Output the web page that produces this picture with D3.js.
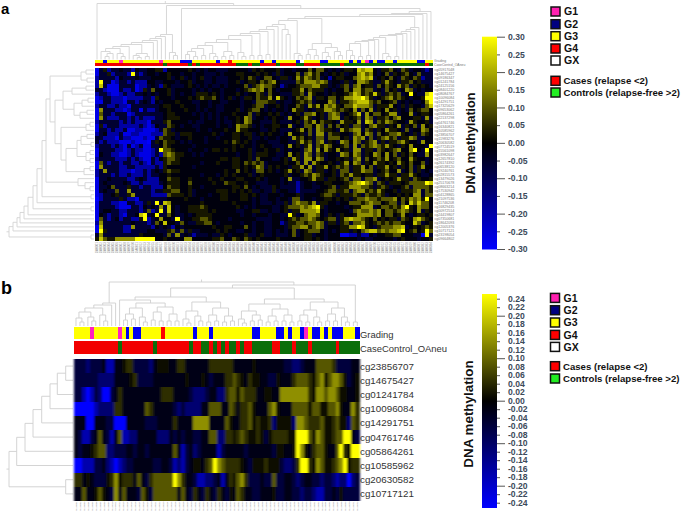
<!DOCTYPE html>
<html><head><meta charset="utf-8">
<script src="https://cdn.jsdelivr.net/npm/d3@7"></script>
<style>html,body{margin:0;padding:0;background:#fff}svg{display:block;font-family:"Liberation Sans",Arial,sans-serif}</style>
</head><body><svg id="c" width="685" height="511"></svg>
<script>
// ---------- values (digits index the level arrays) ----------
const levelsA=[-0.30,-0.27,-0.19,-0.06,-0.012,0.025,0.10,0.17,0.23,0.30];
const levelsB=[-0.25,-0.17,-0.11,-0.06,-0.02,0.015,0.045,0.085,0.14,0.25];
const matrixA=[
"135233433243 344552444445 434344333444 443545444534 434446466434 345548788435 564365344323",
"133523332932 344344544344 344333434445 544454543534 446367564345 453447867434 635456436333",
"233332433343 334444534534 345334333444 546534664355 347576563424 554467878345 464365465233",
"293312332322 244334443445 344334333445 345546567433 336577767634 435347765335 754355645333",
"283111333312 234325433345 434343343444 463567665423 445666775534 356367455364 654756354543",
"332111322312 536444534444 343434434443 456767464344 455746555343 446477566343 645347634344",
"233211232233 434344534344 355545434445 434465364433 355637544345 445687565853 565634943389",
"123322212222 332544434445 456556434534 355465574854 346567355466 457788975345 675654344599",
"113322213323 432434445444 334434433444 344366655343 345656344476 355678886564 456343433479",
"233223221333 333345544544 434434334444 344566344543 446537574767 546687776355 574353544368",
"173332212331 322344544454 434344334445 345664343443 475534355776 565473647354 745343645664",
"163323331233 333334554444 343434344454 446354454534 345366745367 634568374664 577344734554",
"173222332323 222334555444 443434343445 476344345443 744575345367 735456376355 646744455373",
"233333232322 213335644443 433444343345 476443335433 345365746554 375547387365 765443754453",
"152333222223 212433654344 334444344347 665343445544 734366476364 645366346755 354735463745",
"133232231122 111236534444 434434445447 554443345433 345746376554 375677365354 755436344764",
"234222311221 112226553555 444445434455 455345454434 744536377365 544367476364 566754353654",
"332221322111 211365543445 444344344455 445334344344 375645366366 645376736356 756355763344",
"323222111211 103546554343 444344445465 454344433344 335756367354 376476356735 355675443744",
"233323213123 113346544444 344444444454 544345443334 745357365764 456373656765 754354744439",
"133332212322 112396654443 444345545454 445344544534 344367374754 745377355365 456744794394",
"143322112321 112326765544 343444444443 445355544334 745376365344 376476354764 746354643374",
"233332223232 113245665444 444444455455 445364443345 375377476344 545367364565 745644754434",
"163233233223 213225655444 443444544455 465656344445 446373754454 357476354755 454754644634",
"173333223322 222325444444 344444444455 454576354544 355747355745 656355746355 745354635744",
"237333222122 323435655444 444444445446 454366454345 745376355345 366355766345 644734635343",
"233323223222 323344544444 443444345454 445345444445 344565765445 365755455355 755355754334",
"133433332234 322244655445 444454454445 544454344434 733445755355 456366366734 545755365445",
"134333343223 222234555446 444445446554 454433344434 332344344554 445678976365 355545666698",
"133463335332 332224655445 443444444455 464343335433 332344334456 355777665356 534456366665",
"134336337333 332335566445 344444555454 545334335344 332333344566 556367756575 445355567365",
"123345335733 332222655545 344434455444 554543344434 445344445665 355565365565 344545477366",
"023333532213 333333444454 443444455444 554343344344 366344344554 545356676656 667465767594",
"133322113322 353938744444 445444444454 444343334335 367665735544 344666567664 566364868664",
"133332111332 434373843445 556544444445 434344443345 666767895344 443455777346 656579547664",
"134433223332 362393843445 555545444443 344553343345 355777784344 444367667674 665676547354",
"143233213348 934933643343 455554444444 344344434433 953467764354 354457777674 664574345545",
"163234233225 923474439344 556654444344 444433334434 565667654566 357877654645 455365478654",
"273333333433 323648443643 355664344444 344344334423 556656676355 356366754565 656654486345",
"183333322733 332434324344 444445445544 464344334443 566775676344 455779854356 667783454565",
"195333322333 344333563635 334444545443 344344334343 463456664343 455354678867 677894564596",
"373333333335 444443637343 233343354344 453345334333 463455344344 411223224344 556644433193",
"586557777799 999445444477 444445564465 465454444544 444455454344 444443433444 443454443445"
];
const matrixB=[
"333233341144 566333324555 446644444466 666644444544 444443322344 477776333344",
"333333222244 445633334444 444454445434 446676546554 433544467776 578578875345",
"331013200346 444444444466 644443222344 226775766644 554488888886 588788755445",
"000001222266 444444764444 432322224477 744764667544 478544477775 775577854486",
"444004443300 044444333444 464444888844 447544667565 562555528876 667556755276",
"431134743147 112244444222 434344334477 226656765565 356666559997 587556779943",
"434456772233 344344344444 474134234444 134444434444 443554459854 677544796599",
"001113342101 233444443344 312134554679 876666543555 655532236996 587556789566",
"664543335685 666474367777 798644311223 414657863334 337334432344 332332122023",
"447445754384 744437537777 774743643643 643547644334 445334433233 211334353333"
];
const rowLabelsB=["cg23856707","cg14675427","cg01241784","cg10096084","cg14291751","cg04761746","cg05864261","cg10585962","cg20630582","cg10717121"];
const rowLabelsA=["cg05917048","cg14675427","cg09186347","cg01241784","cg24125156","cg08401220","cg08084767","cg10096084","cg14291751","cg17325629","cg09653062","cg05864261","cg22137298","cg04761746","cg16340821","cg10585962","cg23856707","cg11983276","cg20630582","cg07724519","cg15561098","cg03982647","cg12657810","cg26174392","cg06538120","cg19240761","cg02815573","cg13479026","cg25170678","cg08663214","cg17530942","cg04128865","cg21097536","cg11746208","cg16829435","cg00972514","cg24419807","cg07350681","cg18642093","cg12005376","cg10717121","cg23198054","cg09664802"];
const annotationNames=["Grading","CaseControl_OAneu"];
// special columns in the annotation strips; every other column is G3 / Cases
const gradeA={G1:[6,16,67],G2:[2,21,22,23,30,41,44,50,56,57,63,65,68,70,71,74,80,81],G4:[33],GX:[51]};
const controlsA=[17,23,25,35,36,37,39,40,45,50,51,56,57,58,59,60,62,63,64,65,66,67,68,69,70,71,72,73,74,75,76,77,78,79,80,81,83];
const gradeB={G1:[4,11,58],G2:[13,15,16,30,34,45,46,51,52,54,57,60,61,63,65,66,67,71],G4:[22],GX:[]};
const controlsB=[11,20,29,32,33,35,37,39,40,42,45,46,47,48,49,52,53,54,56,57,58,60,61,62,63,64,65,67,68,69,70,71];
// dendrogram merges: [firstLeaf, splitLeaf, endLeaf, linkageHeight]
const treeTopA=[[0,1,84,56],[1,21,84,54],[1,18,21,25],[18,19,21,7],[19,20,21,4],[1,17,18,23],[1,16,17,21],[1,15,16,19],[1,14,15,17],[1,9,14,15],[9,12,14,6],[9,10,12,4],[12,13,14,3],[10,11,12,2],[1,8,9,13],[1,5,8,11],[5,6,8,6],[6,7,8,3],[1,2,5,8],[2,4,5,6],[2,3,4,3],
[21,22,84,51],[22,83,84,48],[22,82,83,46],[22,81,82,45],[22,62,81,43],[22,52,62,41],[22,49,52,39],[49,50,52,6],[50,51,52,4],[22,46,49,35],[46,47,49,30],[47,48,49,25],[22,45,46,33],[22,44,45,30],[22,42,44,28],[42,43,44,5],[22,40,42,26],[40,41,42,4],[22,38,40,24],[38,39,40,4],[22,35,38,20],[35,36,38,7],[36,37,38,3],[22,31,35,17],[31,33,35,8],[31,32,33,3],[33,34,35,4],[22,28,31,14],[28,29,31,6],[29,30,31,3],[22,26,28,11],[26,27,28,4],[22,24,26,8],[24,25,26,3],[22,23,24,5],
[52,56,62,16],[52,54,56,10],[52,53,54,5],[54,55,56,4],[56,59,62,12],[56,57,59,7],[57,58,59,3],[59,60,62,8],[60,61,62,4],
[62,80,81,32],[62,79,80,30],[62,78,79,28],[62,77,78,26],[62,76,77,25],[62,74,76,24],[74,75,76,3],[62,71,74,22],[71,72,74,6],[72,73,74,3],[62,70,71,20],[62,69,70,19],[62,67,69,18],[67,68,69,4],[62,65,67,16],[65,66,67,3],[62,63,65,9],[63,64,65,4]];
const treeSideA=[[0,41,43,85],[41,42,43,3],[0,40,41,81],[0,39,40,77],[0,38,39,74],[0,37,38,70],[0,36,37,66],[0,34,36,61],[34,35,36,3],[0,33,34,57],[0,31,33,52],[31,32,33,3],[0,27,31,48],[27,28,31,16],[28,29,31,9],[29,30,31,4],[0,4,27,44],[0,2,4,13],[0,1,2,8],[2,3,4,7],[4,13,27,39],[4,7,13,31],[4,6,7,22],[4,5,6,8],[7,10,13,20],[7,9,10,12],[7,8,9,6],[10,12,13,14],[10,11,12,7],[13,16,27,33],[13,15,16,8],[13,14,15,4],[16,24,27,28],[16,20,24,17],[16,18,20,13],[16,17,18,7],[18,19,20,3],[20,22,24,8],[20,21,22,4],[22,23,24,4],[24,26,27,10],[24,25,26,4]];
const treeTopB=[[0,11,72,44],[0,10,11,23],[0,9,10,21],[0,6,9,18],[6,7,9,11],[7,8,9,5],[0,3,6,14],[0,1,3,8],[1,2,3,4],[3,4,6,9],[4,5,6,5],
[11,70,72,41],[70,71,72,4],[11,41,70,38],[11,27,41,29],[11,12,27,26],[12,19,27,23],[12,16,19,18],[12,14,16,12],[12,13,14,6],[14,15,16,7],[16,17,19,9],[17,18,19,4],[19,23,27,19],[19,21,23,14],[19,20,21,6],[21,22,23,5],[23,25,27,12],[23,24,25,5],[25,26,27,5],[27,33,41,24],[27,30,33,15],[27,28,30,7],[28,29,30,3],[30,31,33,10],[31,32,33,5],[33,37,41,18],[33,35,37,11],[33,34,35,4],[35,36,37,5],[37,39,41,10],[37,38,39,4],[39,40,41,5],
[41,56,70,27],[41,48,56,22],[41,44,48,15],[41,42,44,7],[42,43,44,3],[44,46,48,11],[44,45,46,5],[46,47,48,6],[48,52,56,17],[48,50,52,10],[48,49,50,4],[50,51,52,5],[52,54,56,11],[52,53,54,5],[54,55,56,4],[56,63,70,24],[56,60,63,16],[56,58,60,11],[56,57,58,5],[58,59,60,4],[60,61,63,9],[61,62,63,4],[63,67,70,18],[63,65,67,12],[63,64,65,5],[65,66,67,5],[67,68,70,9],[68,69,70,4]];
const treeSideB=[[0,8,10,64],[8,9,10,7.3],[0,7,8,56.3],[0,6,7,48],[0,5,6,40],[0,4,5,31.3],[0,3,4,23],[0,2,3,15.7],[0,1,2,7.3]];
const legendGrades=["G1","G2","G3","G4","GX"];
const legendGroups=["Cases (relapse <2)","Controls (relapse-free >2)"];
const barTicksA=[0.30,0.25,0.20,0.15,0.10,0.05,0,-0.05,-0.10,-0.15,-0.20,-0.25,-0.30];
const barTicksB=[0.24,0.22,0.20,0.18,0.16,0.14,0.12,0.10,0.08,0.06,0.04,0.02,0,-0.02,-0.04,-0.06,-0.08,-0.10,-0.12,-0.14,-0.16,-0.18,-0.20,-0.22,-0.24];
const barMajorA=[0.30,0.20,0.10,0,-0.10,-0.20,-0.30];
const barMajorB=[0.20,0.10,0,-0.10,-0.20];
// ---------- styles ----------
const gradeColors={G1:"#ff20c0",G2:"#0000f0",G3:"#ffff00",G4:"#ff0000",GX:"#ffffff"};
const legendColors={G1:"#ff20b0",G2:"#000080",G3:"#ffff00",G4:"#ff0000",GX:"#ffffff"};
const groupStrip=["#f20000","#0a6e0a"], groupLegend=["#ff0000","#22ee22"];
const svg=d3.select("#c");
const defs=svg.append("defs");
defs.append("filter").attr("id","soft").append("feGaussianBlur").attr("stdDeviation","0.4");
defs.append("filter").attr("id","softX").append("feGaussianBlur").attr("stdDeviation","0.9 0.3");
const parse=(rows,levels)=>rows.map(r=>Array.from(r.replace(/\s/g,""),ch=>levels[+ch]));

function buildTree(merges,n){
  const m=new Map(merges.map(d=>[d[0]+"-"+d[2],d]));
  const nest=(s,e)=>{
    const d=m.get(s+"-"+e);
    if(e-s===1||!d) return {pos:(s+e)/2,h:0};
    return {h:d[3],children:[nest(s,d[1]),nest(d[1],e)]};
  };
  const root=d3.hierarchy(nest(0,n));
  root.eachAfter(v=>{ if(v.children) v.data.pos=d3.mean(v.children,c=>c.data.pos); });
  return root;
}
function drawTree(merges,n,posScale,hScale,horizontal,color){
  const root=buildTree(merges,n), p=d3.path();
  const mv=(a,b)=>horizontal?p.moveTo(hScale(b),posScale(a)):p.moveTo(posScale(a),hScale(b));
  const ln=(a,b)=>horizontal?p.lineTo(hScale(b),posScale(a)):p.lineTo(posScale(a),hScale(b));
  root.each(v=>{ if(!v.children) return;
    const [l,r]=v.children;
    mv(l.data.pos,l.data.h); ln(l.data.pos,v.data.h); ln(r.data.pos,v.data.h); ln(r.data.pos,r.data.h);
  });
  mv(root.data.pos,root.data.h); ln(root.data.pos,root.data.h+2.5);
  svg.append("path").attr("d",p.toString()).attr("fill","none").attr("stroke",color).attr("stroke-width",0.9);
}
function heat(mat,x,y,color,filter){
  const g=svg.append("g").attr("filter",`url(#${filter})`).attr("shape-rendering","crispEdges");
  mat.forEach((row,r)=>{
    g.selectAll(null).data(row).join("rect")
      .attr("x",(d,i)=>x(i)).attr("y",y(r)).attr("width",x.bandwidth()+.3).attr("height",y.bandwidth()+.3)
      .attr("fill",d=>color(d));
  });
}
function strips(n,x,top,h,grade,controls,h2top){
  const gOf=i=>{for(const k in grade) if(grade[k].includes(i)) return k; return "G3";};
  svg.append("g").attr("shape-rendering","crispEdges").selectAll("rect").data(d3.range(n)).join("rect")
    .attr("x",x).attr("y",top).attr("width",x.bandwidth()+.2).attr("height",h).attr("fill",i=>gradeColors[gOf(i)]);
  svg.append("g").attr("shape-rendering","crispEdges").selectAll("rect").data(d3.range(n)).join("rect")
    .attr("x",x).attr("y",h2top).attr("width",x.bandwidth()+.2).attr("height",h).attr("fill",i=>groupStrip[controls.includes(i)?1:0]);
}
function colLabels(n,x,top,fs){
  svg.append("g").selectAll("text").data(d3.range(n)).join("text")
    .attr("transform",i=>`translate(${x(i)+x.bandwidth()/2+fs*.35},${top}) rotate(-90)`)
    .attr("text-anchor","end").attr("font-size",fs).attr("fill","#8a8a8a")
    .text(i=>"OA"+String(i+1).padStart(4,"0"));
}
function colorbar(scale,color,ticks,major,x0,w,yTop,yBot,fs){
  const id="g"+x0+yTop, dom=color.domain(), lg=defs.append("linearGradient").attr("id",id).attr("x1",0).attr("x2",0).attr("y1",1).attr("y2",0);
  dom.forEach((d,i)=>lg.append("stop").attr("offset",i/(dom.length-1)).attr("stop-color",color(d)));
  svg.append("rect").attr("x",x0).attr("y",yTop).attr("width",w).attr("height",yBot-yTop).attr("fill",`url(#${id})`);
  const ax=d3.axisRight(scale).tickValues(ticks).tickSize(3).tickPadding(0).tickFormat(d=>d3.format(".2f")(d).replace("\u2212","-"));
  const g=svg.append("g").attr("transform",`translate(${x0+w},0)`).call(ax);
  g.select(".domain").remove();
  g.selectAll(".tick line").attr("stroke","#555").attr("x2",d=>major.some(m=>Math.abs(m-d)<1e-9)?8:3);
  g.selectAll(".tick text").attr("x",11).attr("font-size",fs).attr("font-weight","bold").attr("fill","#3c4a5a").attr("font-family","'Liberation Sans',Arial,sans-serif");
}
function legend(ys,x0){
  legendGrades.forEach((k,i)=>{
    svg.append("rect").attr("x",x0).attr("y",ys[i]-4.3).attr("width",9).attr("height",9).attr("fill",legendColors[k]).attr("stroke","#111").attr("stroke-width",1.5);
    svg.append("text").attr("x",x0+13).attr("y",ys[i]+4).attr("font-size",10.5).attr("font-weight","bold").attr("fill","#111").text(k);
  });
  legendGroups.forEach((k,i)=>{
    svg.append("rect").attr("x",x0).attr("y",ys[5+i]-4.3).attr("width",9).attr("height",9).attr("fill",groupLegend[i]).attr("stroke","#111").attr("stroke-width",1.5);
    svg.append("text").attr("x",x0+12.5).attr("y",ys[5+i]+3.6).attr("font-size",9.6).attr("font-weight","bold").attr("fill","#111").text(k);
  });
}
function vtitle(x,y,fs){
  svg.append("text").attr("transform",`translate(${x},${y}) rotate(-90)`).attr("text-anchor","middle").attr("font-size",fs).attr("font-weight","bold").attr("fill","#111").text("DNA methylation");
}
const letter=(t,x,y,fs)=>svg.append("text").attr("x",x).attr("y",y).attr("font-size",fs).attr("font-weight","bold").attr("fill","#000").text(t);

// ---------- panel a ----------
const A=parse(matrixA,levelsA), nA=A[0].length;
const colorA=d3.scaleLinear().domain([-0.30,0,0.30]).range(["#0000ff","#000000","#ffff00"]);
const xA=d3.scaleBand().domain(d3.range(nA)).range([95,433]);
const yA=d3.scaleBand().domain(d3.range(A.length)).range([68,241]);
letter("a",1,13.6,15);
drawTree(treeTopA,nA,d3.scaleLinear([0,nA],[95,433]),d3.scaleLinear([0,60],[59.5,-0.5]),false,"#d4d4d4");
drawTree(treeSideA,A.length,d3.scaleLinear([0,A.length],[68,241]),d3.scaleLinear([0,90],[94,4]),true,"#d4d4d4");
strips(nA,xA,59.6,3.2,gradeA,controlsA,63.2);
heat(A,xA,yA,colorA,"soft");
svg.append("g").selectAll("text").data(annotationNames).join("text").attr("x",434).attr("y",(d,i)=>62.4+i*3.6).attr("font-size",3.4).attr("fill","#777").text(d=>d);
svg.append("g").selectAll("text").data(rowLabelsA).join("text").attr("x",434.5).attr("y",(d,i)=>yA(i)+yA.bandwidth()/2+1.2).attr("font-size",3.6).attr("fill","#777").text(d=>d);
colLabels(nA,xA,242,3.1);
const barA=d3.scaleLinear().domain([-0.30,0.30]).range([249,36.7]);
colorbar(barA,colorA,barTicksA,barMajorA,482,15,36.7,249.5,8.6);
vtitle(475,143,12.6);
legend([11.3,24,36,48.3,60.3,80.6,92.3],551);

// ---------- panel b ----------
const B=parse(matrixB,levelsB), nB=B[0].length;
const colorB=d3.scaleLinear().domain([-0.25,0,0.25]).range(["#0000ff","#000000","#ffff00"]);
const xB=d3.scaleBand().domain(d3.range(nB)).range([74,359.3]);
const yB=d3.scaleBand().domain(d3.range(B.length)).range([359,501]);
letter("b",1,294,18);
drawTree(treeTopB,nB,d3.scaleLinear([0,nB],[74,359.3]),d3.scaleLinear([0,50],[326,276]),false,"#cfcfcf");
drawTree(treeSideB,B.length,d3.scaleLinear([0,B.length],[359,501]),d3.scaleLinear([0,72],[73,1]),true,"#cfcfcf");
strips(nB,xB,326.7,12.6,gradeB,controlsB,341);
heat(B,xB,yB,colorB,"softX");
svg.selectAll(null).data(annotationNames).join("text").attr("x",360).attr("y",(d,i)=>338.2+i*14.2).attr("font-size",9.45).attr("fill","#333").text(d=>d);
svg.append("g").selectAll("text").data(rowLabelsB).join("text").attr("x",360).attr("y",(d,i)=>yB(i)+yB.bandwidth()/2+3.5).attr("font-size",9.8).attr("fill","#333").text(d=>d);
colLabels(nB,xB,501.5,2.5);
const barB=d3.scaleLinear().domain([-0.24,0.24]).range([502.7,298.7]);
colorbar(barB,colorB,barTicksB,barMajorB,482,15,294,508,8.6);
vtitle(472.5,414,13.4);
legend([297.7,310,322.3,334.7,346.7,366,378.3],550.5);
</script></body></html>
